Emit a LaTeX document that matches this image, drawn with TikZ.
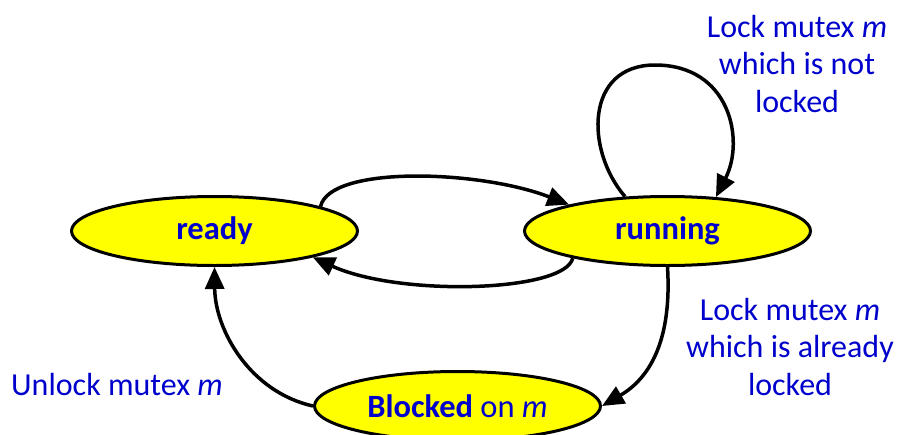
\documentclass[tikz,border=0pt]{standalone}
\usepackage{fontspec}
\setmainfont{Carlito}
\usetikzlibrary{shapes.geometric,arrows.meta}
\definecolor{txtblue}{RGB}{0,0,204}
\definecolor{stateyellow}{RGB}{255,255,0}
\tikzset{
  state/.style={ellipse, draw=black, line width=3pt, fill=stateyellow, inner sep=0pt,
    minimum width=286pt, minimum height=69pt, text=txtblue,
    font=\fontsize{32.5}{38}\selectfont},
  lbl/.style={text=txtblue, align=center, inner sep=0pt,
    font=\fontsize{32}{37.5}\selectfont},
  conn/.style={line width=3.5pt, -{Triangle[length=22pt,width=19pt]}}
}
\begin{document}
\begin{tikzpicture}[x=1pt,y=-1pt]
\useasboundingbox (0,0) rectangle (897,434);
\node[state] (ready) at (214.5,231) {\textbf{ready}};
\node[state] (running) at (667.5,231) {\textbf{running}};
\node[state] (blocked) at (457.5,406) {\textbf{Blocked} on \textit{m}};

\node[lbl, anchor=north] (l1) at (797,15) {Lock mutex \textit{m}\\which is not\\locked};
\node[lbl, anchor=north] (l2) at (790,298) {Lock mutex \textit{m}\\which is already\\locked};
\node[lbl, anchor=base west] (l3) at (11,395) {Unlock mutex \textit{m}};

\draw[conn] (ready.13) .. controls (330,165) and (480,170) .. (running.165);
\draw[conn] (running.196) .. controls (565,292) and (400,297) .. (ready.345);
\draw[conn] (running.141) .. controls (585,150) and (585,65) .. (655,65)
  .. controls (730,65) and (745,140) .. (running.35);
\draw[conn] (running.south) .. controls (672,340) and (650,378) .. (blocked.east);
\draw[conn] (blocked.west) .. controls (250,392) and (215,330) .. (ready.south);
\end{tikzpicture}
\end{document}
